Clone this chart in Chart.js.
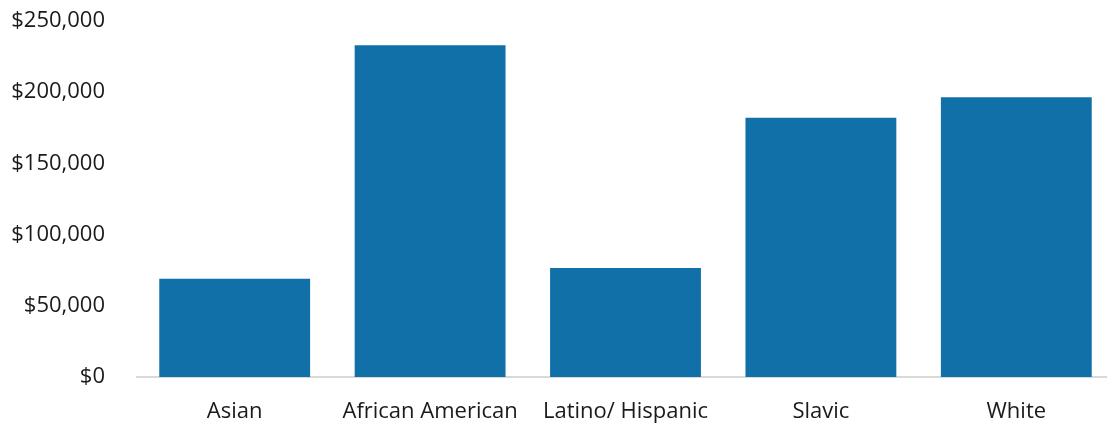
<!DOCTYPE html>
<html>
<head>
<meta charset="utf-8">
<script src="https://cdn.jsdelivr.net/npm/chart.js@4"></script>
<style>
  html, body { margin: 0; padding: 0; background: #fff; overflow: hidden; }
  #wrap { width: 1114px; height: 426px; position: relative; }
</style>
</head>
<body>
<div id="wrap"><canvas id="chart"></canvas></div>
<script>
const categories = ["Asian", "African American", "Latino/ Hispanic", "Slavic", "White"];
const amounts = [69000, 233000, 76500, 182000, 196500];
const yTicks = [0, 50000, 100000, 150000, 200000, 250000];

const barColor = "#1070a7";
const textColor = "#1a1a1a";

const ctx = document.getElementById("chart");

new Chart(ctx, {
    type: "bar",
    data: {
        labels: categories,
        datasets: [{
            data: amounts,
            backgroundColor: barColor,
            borderWidth: 0,
            categoryPercentage: 1.0,
            barPercentage: 0.772
        }]
    },
    options: {
        responsive: true,
        maintainAspectRatio: false,
        animation: false,
        layout: {
            padding: { top: 21, right: 0, bottom: 0, left: 0 }
        },
        plugins: {
            legend: { display: false },
            tooltip: { enabled: false }
        },
        scales: {
            y: {
                min: 0,
                max: 250000,
                afterBuildTicks: function(scale){
                    scale.ticks = yTicks.map(v => ({ value: v }));
                },
                afterFit: function(scale){
                    scale.width = 137;
                    scale.paddingTop = 0;
                    scale.paddingBottom = 0;
                },
                grid: { display: false, drawTicks: false },
                border: { display: false },
                ticks: {
                    color: textColor,
                    padding: 32,
                    font: { family: "Open Sans", size: 22 },
                    callback: function(value){
                        return "$" + value.toLocaleString("en-US");
                    }
                }
            },
            x: {
                afterFit: function(scale){
                    scale.height = 49;
                    scale.paddingLeft = 0;
                    scale.paddingRight = 0;
                },
                grid: { display: false },
                border: { display: true, color: "#d9d9d9", width: 2 },
                ticks: {
                    color: textColor,
                    padding: 14,
                    maxRotation: 0,
                    autoSkip: false,
                    font: { family: "Open Sans", size: 22 }
                }
            }
        }
    }
});
</script>
</body>
</html>
